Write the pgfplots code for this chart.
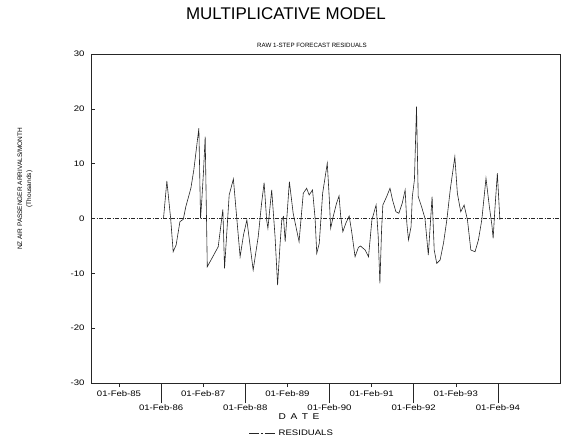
\documentclass[border=0pt]{standalone}
\usepackage{pgfplots}
\pgfplotsset{compat=1.18}
\usepackage{fontspec}
\setmainfont{Liberation Sans}
\newfontfamily\widefont[FakeStretch=1.2]{Liberation Sans}

% residuals (decimal years, thousands)
\pgfplotstableread{
x        y
1986.14  0.00
1986.22  6.84
1986.31  0.00
1986.37 -6.06
1986.44 -4.84
1986.53 -0.58
1986.61 -0.15
1986.67  2.15
1986.79  5.51
1986.86  8.85
1986.98 16.46
1987.02  0.04
1987.05  3.38
1987.09  8.54
1987.13 14.93
1987.18 -8.80
1987.29 -7.26
1987.44 -5.15
1987.55  1.68
1987.59 -9.09
1987.70  4.29
1987.80  7.21
1987.88  0.09
1987.96 -6.97
1988.04 -3.01
1988.12 -0.27
1988.27 -9.40
1988.39 -3.32
1988.47  2.77
1988.53  6.53
1988.59 -0.27
1988.62 -1.79
1988.71  5.20
1988.79 -3.32
1988.85 -12.14
1988.91 -4.53
1988.95 -0.27
1988.99  0.33
1989.03 -4.23
1989.13  6.72
1989.22  0.95
1989.36 -4.23
1989.46  4.60
1989.54  5.51
1989.60  4.29
1989.68  5.20
1989.74  0.09
1989.78 -6.35
1989.84 -4.53
1989.92  4.60
1990.03 10.07
1990.08  3.38
1990.11 -1.79
1990.17  0.33
1990.25  2.77
1990.31  4.11
1990.35  0.33
1990.40 -2.41
1990.47 -0.88
1990.55  0.46
1990.61 -2.41
1990.69 -6.97
1990.77 -5.26
1990.82 -5.02
1990.93 -5.75
1991.01 -6.97
1991.09 -0.27
1991.19  2.46
1991.24 -3.32
1991.28 -11.82
1991.32 -2.10
1991.35  2.46
1991.44  3.98
1991.52  5.51
1991.58  3.38
1991.66  1.24
1991.73  0.95
1991.81  2.77
1991.88  5.20
1991.92 -0.88
1991.96 -3.92
1992.02 -1.50
1992.05  3.98
1992.10  7.03
1992.15 20.40
1992.19  3.98
1992.27  2.15
1992.35  0.04
1992.43 -6.66
1992.52  3.98
1992.57 -5.75
1992.63 -8.18
1992.71 -7.57
1992.79 -4.53
1992.87 -0.27
1992.95  5.20
1993.06 11.28
1993.12  4.60
1993.20  1.24
1993.28  2.46
1993.36 -0.27
1993.44 -5.75
1993.54 -6.06
1993.62 -3.92
1993.70 -0.27
1993.80  7.34
1993.88  2.15
1993.94 -1.19
1993.97 -3.61
1994.01  1.55
1994.07  8.25
1994.13 -0.27
}\residuals

\begin{document}
\begin{tikzpicture}
\path[use as bounding box] (0bp,0bp) rectangle (568bp,442bp);

\node[font=\fontsize{17}{19}\selectfont] at (286bp,428bp) {MULTIPLICATIVE MODEL};
\node[font=\fontsize{6.2}{7.5}\selectfont] at (312bp,397bp) {RAW 1-STEP FORECAST RESIDUALS};
\node[rotate=90, align=center, font=\fontsize{6.5}{9}\selectfont] at (25bp,253bp)
  {NZ AIR PASSENGER ARRIVALS/MONTH\\(Thousands)};
\node[font=\widefont\fontsize{8.5}{9}\selectfont] at (299bp,25bp)
  {D\hspace{4.5bp}A\hspace{4.5bp}T\hspace{4.5bp}E};

\begin{axis}[
  at={(91bp,59bp)}, anchor=south west,
  width=469bp, height=329bp, scale only axis,
  xmin=1984.418, xmax=1995.558,
  ymin=-30, ymax=30,
  axis line style={black!85, line width=0.5bp},
  ytick={-30,-20,...,30},
  ytick pos=left, xtick pos=bottom,
  ytick align=inside, xtick align=outside,
  major tick length=4bp,
  every tick/.style={black!85, line width=0.5bp},
  /pgf/number format/assume math mode=true,
  yticklabel style={font=\widefont\fontsize{8}{9}\selectfont, xshift=-3bp},
  xtick={1985.083,1987.083,1989.083,1991.083,1993.083},
  xticklabels={01-Feb-85,01-Feb-87,01-Feb-89,01-Feb-91,01-Feb-93},
  extra x ticks={1986.083,1988.083,1990.083,1992.083,1994.083},
  extra x tick labels={01-Feb-86,01-Feb-88,01-Feb-90,01-Feb-92,01-Feb-94},
  extra x tick style={major tick length=20bp, xticklabel style={yshift=2bp}},
  xticklabel style={font=\widefont\fontsize{8}{9}\selectfont},
  legend style={at={(0.4286,-0.152)}, anchor=center, draw=none, fill=none,
    font=\widefont\fontsize{8}{9}\selectfont},
  legend image code/.code={\draw[#1, dash pattern=on 10bp off 2bp on 1.5bp off 2bp on 10bp]
    (0bp,0bp) -- (27bp,0bp);},
]
\addplot[black!85, line width=0.6bp, dash pattern=on 4bp off 1.5bp on 1bp off 1.5bp, forget plot]
  coordinates {(1984.418,0) (1995.558,0)};
\addplot[black!85, line width=0.6bp] table[x=x, y=y] {\residuals};
\addlegendentry{RESIDUALS}
\end{axis}
\end{tikzpicture}
\end{document}
